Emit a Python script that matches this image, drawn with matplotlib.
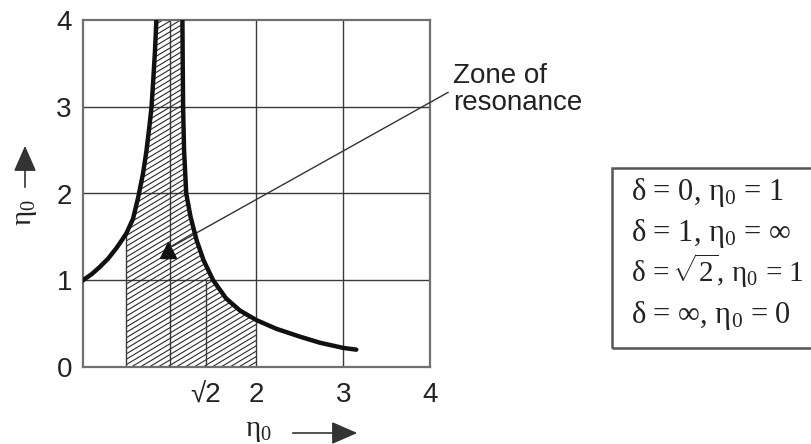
import numpy as np
import matplotlib
matplotlib.use("Agg")
import matplotlib.pyplot as plt
from matplotlib.patches import Polygon, Rectangle, FancyArrowPatch
from matplotlib.collections import LineCollection

plt.rcParams['font.family'] = ['Liberation Sans', 'DejaVu Sans']
plt.rcParams['mathtext.fontset'] = 'custom'
plt.rcParams['mathtext.rm'] = 'Liberation Serif'
plt.rcParams['mathtext.it'] = 'Liberation Serif:italic'

## transmissibility curve, below resonance (delta < 1)
left_x = [0.0, 0.1, 0.19, 0.29, 0.385, 0.44, 0.5, 0.577, 0.635, 0.69, 0.73, 0.765, 0.79, 0.81, 0.83, 0.846]
left_y = [1.0, 1.07, 1.15, 1.25, 1.37, 1.45, 1.54, 1.71, 1.95, 2.22, 2.48, 2.77, 3.0, 3.31, 3.65, 4.0]
## above resonance (delta > 1)
right_x = [1.146, 1.15, 1.154, 1.165, 1.19, 1.24, 1.31, 1.39, 1.5, 1.65, 1.81, 2.0, 2.23, 2.5, 2.73, 3.0, 3.15]
right_y = [4.0, 3.46, 3.0, 2.5, 2.0, 1.73, 1.46, 1.23, 1.0, 0.79, 0.65, 0.54, 0.44, 0.35, 0.28, 0.22, 0.2]

zone_from, zone_to = 0.5, 2.0   ## hatched zone of resonance
grid_vals = [1, 2, 3]
xtick_vals = [np.sqrt(2), 2, 3, 4]
xtick_labels = ['√2', '2', '3', '4']
ytick_vals = [0, 1, 2, 3, 4]
legend_lines = [r'δ = 0, $\mathrm{\eta_0}$ = 1',
                r'δ = 1, $\mathrm{\eta_0}$ = ∞',
                r'δ = $\!\sqrt{2}$, $\mathrm{\eta_0}$ = 1',
                r'δ = ∞, $\mathrm{\eta_0}$ = 0']

W, H = 812, 444
def px(x, y):
    return (x / W, 1 - y / H)

fig = plt.figure(figsize=(W / 100, H / 100), dpi=100)
ax = fig.add_axes([83 / W, 77 / H, 347 / W, 347 / H])
ax.set_xlim(0, 4)
ax.set_ylim(0, 4)

for g in grid_vals:
    ax.axvline(g, color='#3a3a3a', lw=1.0, zorder=1)
    ax.axhline(g, color='#3a3a3a', lw=1.0, zorder=1)
for s in ax.spines.values():
    s.set_color('#707070')
    s.set_linewidth(1.6)

## hatched region under the curve
poly = [(zone_from, 0)]
poly += [(x, y) for x, y in zip(left_x, left_y) if x >= zone_from]
poly += [(x, y) for x, y in zip(right_x, right_y) if x <= zone_to]
poly += [(zone_to, 0)]
zone = Polygon(poly, closed=True, facecolor='none', edgecolor='none')
ax.add_patch(zone)
offsets = np.arange(-3.0, 4.0, 0.062)
segs = [[(0, c), (4, c + 0.6 * 4)] for c in offsets]
hatch = LineCollection(segs, colors='#2a2a2a', linewidths=0.8, zorder=2)
ax.add_collection(hatch)
hatch.set_clip_path(zone)
ax.plot([zone_from, zone_from], [0, left_y[left_x.index(zone_from)]], color='#3a3a3a', lw=1.0, zorder=2)
ax.plot([np.sqrt(2), np.sqrt(2)], [0, 1], color='#3a3a3a', lw=1.0, zorder=2)

ax.plot(left_x, left_y, color='#111111', lw=3.2, zorder=4)
ax.plot(right_x, right_y, color='#111111', lw=3.2, solid_capstyle='round', zorder=4)

ax.set_xticks(xtick_vals)
ax.set_xticklabels(xtick_labels)
ax.set_yticks(ytick_vals)
ax.tick_params(axis='x', length=0, pad=11, labelsize=20, colors='#222222')
ax.tick_params(axis='y', length=0, pad=8, labelsize=20, colors='#222222')

## zone of resonance pointer
ax.annotate('Zone of\nresonance', xy=(1.03, 1.39), xytext=(4.27, 3.2),
            fontsize=20, color='#222222', va='center', ha='left', linespacing=1.05,
            annotation_clip=False,
            arrowprops=dict(arrowstyle='-', color='#333333', lw=1.0,
                            relpos=(0, 0.5), shrinkA=2, shrinkB=0))
ax.plot([0.98], [1.35], marker='^', ms=11, color='#111111', zorder=5)

## axis labels with arrows
fig.text(*px(25, 213), r'$\mathrm{\eta_0}$', rotation=90, fontsize=21,
         ha='center', va='center', color='#222222')
fig.patches.append(FancyArrowPatch(
    px(25, 190), px(25, 143), transform=fig.transFigure, figure=fig,
    arrowstyle='-|>,head_length=0.8,head_width=0.35', color='#333333', lw=1.2, mutation_scale=20))
fig.text(*px(258, 430), r'$\mathrm{\eta_0}$', fontsize=21,
         ha='center', va='center', color='#222222')
fig.patches.append(FancyArrowPatch(
    px(290, 433), px(360, 433), transform=fig.transFigure, figure=fig,
    arrowstyle='-|>,head_length=0.8,head_width=0.35', color='#333333', lw=1.2, mutation_scale=20))

## boundary conditions box
x0, y0 = px(612, 348)
x1, y1 = px(820, 168)
fig.patches.append(Rectangle((x0, y0), x1 - x0, y1 - y0, transform=fig.transFigure,
                             figure=fig, fill=False, edgecolor='#555555', lw=1.8))
for i, line in enumerate(legend_lines):
    fig.text(*px(631, 200 + i * 41), line, fontsize=22 if i != 2 else 21,
             family='Liberation Serif', ha='left', va='baseline', color='#222222')

fig.savefig('out.png', dpi=100)
